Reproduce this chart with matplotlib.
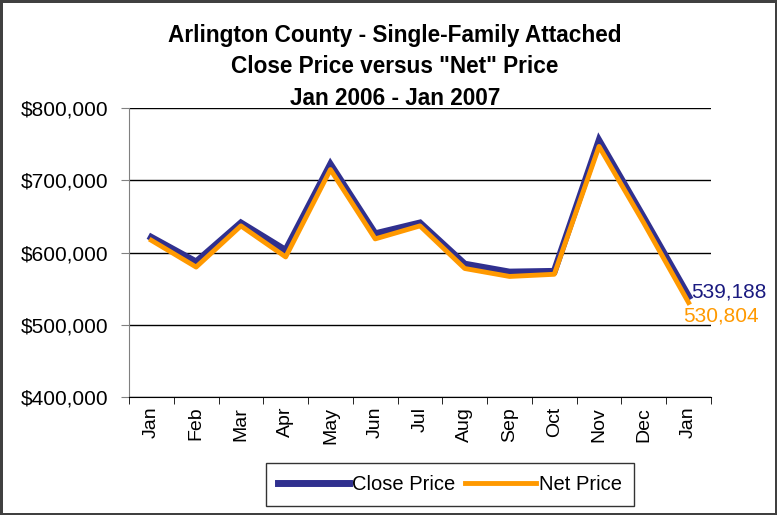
import matplotlib
matplotlib.use('Agg')
import matplotlib.pyplot as plt
from matplotlib.ticker import FuncFormatter, FixedLocator

plt.rcParams['font.family'] = ['Liberation Sans', 'DejaVu Sans']

months = ['Jan', 'Feb', 'Mar', 'Apr', 'May', 'Jun', 'Jul', 'Aug', 'Sep', 'Oct', 'Nov', 'Dec', 'Jan']
close_price = [621000, 587000, 641000, 603000, 722000, 626000, 641000, 584000, 573000, 574000, 755000, 648000, 539188]
net_price = [617000, 580000, 637000, 594000, 715000, 619000, 637000, 578000, 567000, 570000, 747000, 641000, 530804]

NAVY = '#30308F'
ORANGE = '#FF9900'

fig = plt.figure(figsize=(7.77, 5.15), dpi=100, edgecolor='#404040', linewidth=2.5)
ax = fig.add_axes([0.166, 0.229, 0.749, 0.561])

x = list(range(len(months)))
ax.plot(x, close_price, color=NAVY, lw=5, label='Close Price', solid_joinstyle='miter', zorder=3)
ax.plot(x, net_price, color=ORANGE, lw=3.5, label='Net Price', zorder=4)

ax.set_xlim(-0.5, len(months) - 0.5)
ax.set_ylim(400000, 800000)
ax.set_yticks([400000, 500000, 600000, 700000, 800000])
ax.yaxis.set_major_formatter(FuncFormatter(lambda v, p: '${:,.0f}'.format(v)))
ax.grid(axis='y', color='black', lw=1)
ax.set_axisbelow(True)

ax.set_xticks(x)
ax.set_xticklabels(months, rotation=90, fontsize=14)
ax.tick_params(axis='x', length=0, pad=7)
ax.xaxis.set_minor_locator(FixedLocator([i - 0.5 for i in range(len(months) + 1)]))
ax.tick_params(axis='x', which='minor', length=5, color='black')
ax.tick_params(axis='y', labelsize=15, length=6, color='#808080', pad=9)

for s in ['top', 'right']:
    ax.spines[s].set_visible(False)
ax.spines['left'].set_color('#808080')
ax.spines['bottom'].set_color('black')

ax.annotate('{:,}'.format(close_price[-1]), (x[-1], close_price[-1]), xytext=(2, 3),
            textcoords='offset points', color='#1A1A80', fontsize=15, va='center', ha='left')
ax.annotate('{:,}'.format(net_price[-1]), (x[-1], net_price[-1]), xytext=(-4, -10),
            textcoords='offset points', color=ORANGE, fontsize=15, va='center', ha='left')

fig.text(0.508, 0.87, 'Arlington County - Single-Family Attached\nClose Price versus "Net" Price\nJan 2006 - Jan 2007',
         ha='center', va='center', fontsize=16.3, fontweight='bold', linespacing=1.45)

leg = ax.legend(loc='center', bbox_to_anchor=(0.579, 0.06), bbox_transform=fig.transFigure,
                ncol=2, fontsize=14.5, frameon=True, fancybox=False, edgecolor='black',
                handlelength=3.5, handletextpad=0.15, columnspacing=0.5, borderpad=0.6,
                borderaxespad=0)
leg.get_frame().set_linewidth(1)

fig.savefig('out.png', dpi=100)
